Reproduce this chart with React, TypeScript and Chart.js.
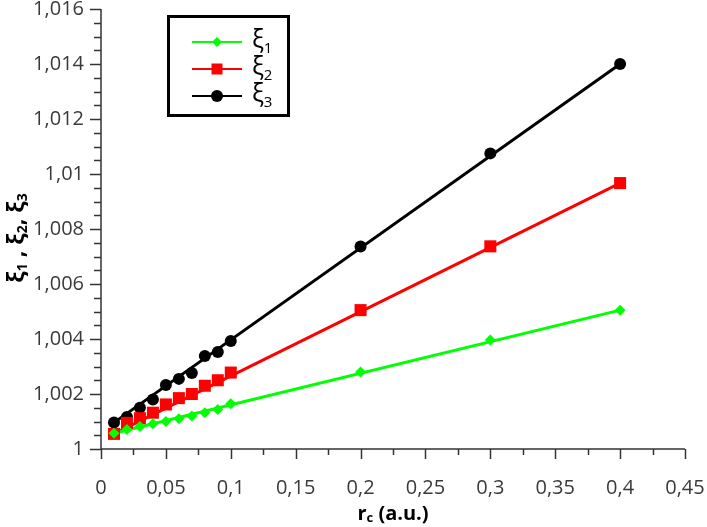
import React, { useEffect, useRef } from "react";
import { Chart, registerables } from "chart.js";

Chart.register(...registerables);

const rc = [0.01, 0.02, 0.03, 0.04, 0.05, 0.06, 0.07, 0.08, 0.09, 0.1, 0.2, 0.3, 0.4];
const xi1 = [1.00057, 1.00071, 1.00082, 1.00092, 1.001, 1.0011, 1.0012, 1.00132, 1.00144, 1.00165, 1.0028, 1.00396, 1.00505];
const xi2 = [1.00055, 1.00095, 1.00112, 1.00132, 1.00162, 1.00185, 1.002, 1.0023, 1.0025, 1.00278, 1.00505, 1.00737, 1.00967];
const xi3 = [1.00096, 1.00116, 1.0015, 1.0018, 1.00233, 1.00255, 1.00276, 1.00338, 1.00353, 1.00393, 1.00736, 1.01075, 1.014];

const seriesNames = ["1", "2", "3"];
const seriesColors = ["#00ff00", "#ff0000", "#000000"];
const seriesStyles = ["rectRot", "rect", "circle"];
const seriesRadius = [5.5, 8.5, 6];
const seriesValues = [xi1, xi2, xi3];

const xMin = 0, xMax = 0.45, xStep = 0.05;
const yMin = 1, yMax = 1.016, yStep = 0.002;

const FONT = "'Open Sans', 'Noto Sans', sans-serif";
const fmt = (v: number) => String(parseFloat(v.toFixed(5))).replace(".", ",");

function drawParts(ctx: CanvasRenderingContext2D, parts: { t: string; sub?: boolean }[], x: number, y: number, big: string, small: string, subDy: number, align: "center" | "left") {
  let total = 0;
  const widths = parts.map((p) => {
    ctx.font = p.sub ? small : big;
    const w = ctx.measureText(p.t).width;
    total += w;
    return w;
  });
  let cx = align === "center" ? x - total / 2 : x;
  parts.forEach((p, i) => {
    ctx.font = p.sub ? small : big;
    ctx.fillText(p.t, cx, p.sub ? y + subDy : y);
    cx += widths[i];
  });
}

const decorPlugin = {
  id: "decor",
  afterDraw(chart: any) {
    const ctx: CanvasRenderingContext2D = chart.ctx;
    const { left, right, top, bottom } = chart.chartArea;
    const xs = chart.scales.x;
    const ys = chart.scales.y;
    ctx.save();
    ctx.strokeStyle = "#333333";
    ctx.lineWidth = 1.5;
    ctx.beginPath();
    ctx.moveTo(left, top);
    ctx.lineTo(left, bottom);
    ctx.lineTo(right, bottom);
    ctx.stroke();
    const yN = Math.round((yMax - yMin) / (yStep / 4));
    for (let i = 0; i <= yN; i++) {
      const v = yMin + (i * yStep) / 4;
      const py = Math.round(ys.getPixelForValue(v)) + 0.5;
      const len = i % 4 === 0 ? 11 : 7;
      ctx.beginPath();
      ctx.moveTo(left - len, py);
      ctx.lineTo(left, py);
      ctx.stroke();
    }
    const xN = Math.round((xMax - xMin) / (xStep / 2));
    for (let i = 0; i <= xN; i++) {
      const v = xMin + (i * xStep) / 2;
      const px = Math.round(xs.getPixelForValue(v)) + 0.5;
      const len = i % 2 === 0 ? 10 : 6;
      ctx.beginPath();
      ctx.moveTo(px, bottom);
      ctx.lineTo(px, bottom + len);
      ctx.stroke();
    }
    ctx.fillStyle = "#000000";
    ctx.textBaseline = "middle";
    ctx.textAlign = "left";
    drawParts(ctx, [{ t: "r" }, { t: "c", sub: true }, { t: " (a.u.)" }], (left + right) / 2, 514, `bold 20px ${FONT}`, `bold 13px ${FONT}`, 4, "center");
    ctx.save();
    ctx.translate(17, 238);
    ctx.rotate(-Math.PI / 2);
    drawParts(
      ctx,
      [{ t: "ξ" }, { t: "1", sub: true }, { t: " , ξ" }, { t: "2", sub: true }, { t: ", ξ" }, { t: "3", sub: true }],
      0, 0, `bold 23px ${FONT}`, `bold 14px ${FONT}`, 6, "center"
    );
    ctx.restore();
    ctx.strokeStyle = "#000000";
    ctx.lineWidth = 3;
    ctx.strokeRect(168.5, 16.5, 120, 99);
    const rows = [42, 69, 96];
    seriesNames.forEach((n, i) => {
      const y = rows[i];
      ctx.strokeStyle = seriesColors[i];
      ctx.lineWidth = 2;
      ctx.beginPath();
      ctx.moveTo(192, y);
      ctx.lineTo(242, y);
      ctx.stroke();
      ctx.fillStyle = seriesColors[i];
      const st = seriesStyles[i];
      ctx.beginPath();
      if (st === "circle") {
        ctx.arc(217, y, 6, 0, Math.PI * 2);
      } else if (st === "rect") {
        ctx.rect(211.5, y - 5.5, 11, 11);
      } else {
        ctx.moveTo(217, y - 5);
        ctx.lineTo(222, y);
        ctx.lineTo(217, y + 5);
        ctx.lineTo(212, y);
        ctx.closePath();
      }
      ctx.fill();
      ctx.fillStyle = "#000000";
      ctx.textBaseline = "alphabetic";
      drawParts(ctx, [{ t: "ξ" }, { t: n, sub: true }], 252, y + 6, `25px ${FONT}`, `15px ${FONT}`, 5, "left");
    });
    ctx.restore();
  },
};

const zeroPad = (s: any) => {
  s.paddingTop = 0;
  s.paddingBottom = 0;
  s.paddingLeft = 0;
  s.paddingRight = 0;
};

export default function App() {
  const ref = useRef<HTMLCanvasElement | null>(null);
  useEffect(() => {
    if (!ref.current) return;
    const markerSets = seriesValues.map((vals, i) => ({
      label: "ξ" + seriesNames[i],
      data: rc.map((x, j) => ({ x, y: vals[j] })),
      showLine: false,
      pointStyle: seriesStyles[i],
      pointRadius: seriesRadius[i],
      pointBackgroundColor: seriesColors[i],
      pointBorderColor: seriesColors[i],
      pointBorderWidth: 0,
      borderColor: seriesColors[i],
      order: 0,
    }));
    const lineSets = seriesValues.map((vals, i) => ({
      label: "fit" + seriesNames[i],
      data: [
        { x: rc[0], y: vals[0] },
        { x: rc[rc.length - 1], y: vals[vals.length - 1] },
      ],
      showLine: true,
      pointRadius: 0,
      borderColor: seriesColors[i],
      borderWidth: 3,
      order: 10,
    }));
    const chart = new Chart(ref.current, {
      type: "scatter",
      data: { datasets: [...markerSets, ...lineSets] as any },
      plugins: [decorPlugin],
      options: {
        animation: false,
        responsive: false,
        layout: { padding: { left: 0, top: 9, right: 22, bottom: 0 }, autoPadding: false } as any,
        plugins: { legend: { display: false }, tooltip: { enabled: false } },
        scales: {
          x: {
            type: "linear",
            min: xMin,
            max: xMax,
            afterFit: (s: any) => { s.height = 78; zeroPad(s); },
            border: { display: false },
            grid: { display: false, drawTicks: false },
            ticks: {
              stepSize: xStep,
              padding: 27,
              color: "#3a3a3a",
              font: { family: FONT, size: 20 },
              maxRotation: 0,
              autoSkip: false,
              callback: (v: any) => fmt(Number(v)),
            },
          },
          y: {
            type: "linear",
            min: yMin,
            max: yMax,
            afterFit: (s: any) => { s.width = 101; zeroPad(s); },
            border: { display: false },
            grid: { display: false, drawTicks: false },
            ticks: {
              stepSize: yStep,
              padding: 17,
              color: "#3a3a3a",
              font: { family: FONT, size: 20 },
              autoSkip: false,
              callback: (v: any) => fmt(Number(v)),
            },
          },
        },
      },
    });
    return () => chart.destroy();
  }, []);
  return (
    <div style={{ position: "fixed", left: 0, top: 0, width: 707, height: 527, background: "#ffffff" }}>
      <canvas ref={ref} width={707} height={527} style={{ width: 707, height: 527 }} />
    </div>
  );
}
